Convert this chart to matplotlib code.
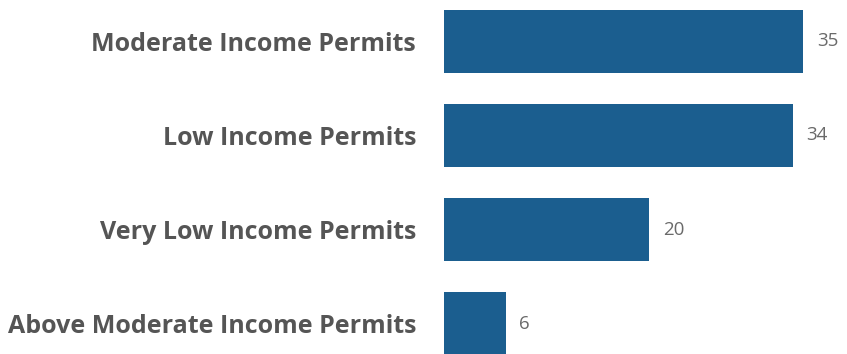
import matplotlib.pyplot as plt

# permit categories, top to bottom
categories = ["Moderate Income Permits", "Low Income Permits",
              "Very Low Income Permits", "Above Moderate Income Permits"]
permits = [35, 34, 20, 6]

plt.rcParams['font.family'] = ['Open Sans', 'DejaVu Sans']

fig = plt.figure(figsize=(8.47, 3.54), dpi=100)
ax = fig.add_axes([444 / 847, 0, 403 / 847, 1])

ypos = list(range(len(categories)))
ax.barh(ypos, permits, height=0.67, color="#1b5e8f")

for y, v in zip(ypos, permits):
    ax.text(v + 1.35, y, str(v), va="center", ha="left", fontsize=13.5, color="#6a6a6a")

ax.set_xlim(0, 39.3)
ax.set_ylim(3.324, -0.441)
ax.set_yticks(ypos)
ax.set_yticklabels(categories, fontsize=18, fontweight="bold", color="#555555")
ax.tick_params(axis="y", length=0, pad=20)
ax.set_xticks([])
for s in ax.spines.values():
    s.set_visible(False)

fig.savefig("out.png", dpi=100)
